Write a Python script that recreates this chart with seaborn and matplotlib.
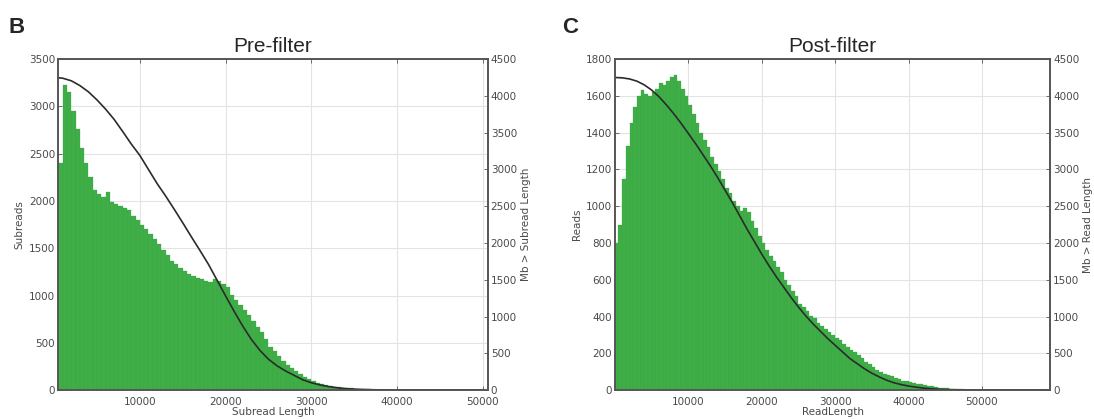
import numpy as np
import pandas as pd
import matplotlib
matplotlib.use("Agg")
import matplotlib.pyplot as plt
import seaborn as sns

# Histogram bin width (bp) and bar heights
bin_width = 500

# Pre-filter subreads, bins starting at 500 bp
pre_start = 500
pre_counts = [
    2400, 3230, 3150, 2950, 2760, 2560, 2400, 2250, 2120, 2070,
    2040, 2090, 1990, 1970, 1950, 1930, 1900, 1840, 1800, 1750,
    1700, 1650, 1600, 1540, 1480, 1430, 1370, 1330, 1290, 1260,
    1230, 1210, 1190, 1170, 1150, 1140, 1170, 1150, 1120, 1090,
    1010, 950, 900, 850, 790, 730, 670, 610, 540, 460,
    410, 360, 310, 270, 230, 200, 170, 140, 115, 95,
    80, 66, 55, 45, 37, 31, 25, 21, 17, 14,
    11, 9, 7, 6, 5, 4, 3, 3, 2, 2,
    2, 2, 1, 1, 1, 1, 1, 1, 1, 1,
    0, 0, 0, 0, 0, 0, 0, 0, 0, 0,
]
pre_curve_x = [500, 1000, 2000, 3000, 4000, 5000, 6000, 7000, 8000, 9000,
               10000, 11000, 12000, 13000, 14000, 15000, 16000, 17000, 18000, 19000,
               20000, 21000, 22000, 23000, 24000, 25000, 26000, 27000, 28000, 29000,
               30000, 31000, 32000, 33000, 34000, 35000, 36000, 37000, 38000, 40000,
               45000, 50000]
pre_curve_mb = [4245, 4240, 4205, 4140, 4055, 3945, 3820, 3680, 3515, 3345,
                3190, 3000, 2810, 2640, 2460, 2275, 2085, 1900, 1710, 1495,
                1280, 1070, 870, 690, 540, 420, 330, 260, 200, 140,
                100, 70, 48, 32, 20, 13, 8, 5, 3, 1,
                0, 0]

# Post-filter reads, bins starting at 0 bp
post_start = 0
post_counts = [
    800, 900, 1150, 1330, 1450, 1540, 1600, 1630, 1610, 1600,
    1620, 1640, 1670, 1660, 1680, 1700, 1715, 1680, 1640, 1600,
    1550, 1500, 1450, 1400, 1360, 1320, 1270, 1230, 1190, 1150,
    1100, 1070, 1030, 1000, 975, 990, 970, 920, 880, 840,
    800, 760, 730, 700, 670, 640, 600, 570, 540, 510,
    470, 450, 430, 405, 390, 365, 350, 330, 315, 300,
    285, 270, 250, 235, 220, 205, 190, 175, 155, 140,
    125, 110, 100, 90, 82, 74, 65, 58, 52, 47,
    43, 38, 35, 31, 27, 24, 20, 17, 14, 12,
    10, 8, 7, 5, 4, 3, 3, 2, 2, 1,
    1, 1, 1, 1, 0, 0, 0, 0, 0, 0,
    0, 0, 0, 0, 0, 0, 0, 0,
]
post_curve_x = [0, 1000, 2000, 3000, 4000, 5000, 6000, 7000, 8000, 9000,
                10000, 11000, 12000, 13000, 14000, 15000, 16000, 17000, 18000, 19000,
                20000, 21000, 22000, 23000, 24000, 25000, 26000, 27000, 28000, 29000,
                30000, 31000, 32000, 33000, 34000, 35000, 36000, 37000, 38000, 39000,
                40000, 41000, 42000, 43000, 44000, 46000, 48000, 50000, 59000]
post_curve_mb = [4250, 4245, 4230, 4200, 4150, 4080, 3990, 3880, 3760, 3630,
                 3490, 3350, 3200, 3050, 2890, 2720, 2550, 2370, 2190, 2020,
                 1850, 1690, 1540, 1400, 1260, 1130, 1010, 900, 800, 700,
                 610, 520, 430, 360, 290, 230, 180, 135, 100, 75,
                 55, 40, 28, 19, 12, 5, 2, 0, 0]

x_ticks = [10000, 20000, 30000, 40000, 50000]

green = "#3fae47"
grey_txt = "#4a4a4a"
spine_col = "#555555"

sns.set_theme(style="white")
plt.rcParams['font.family'] = ['DejaVu Sans']


def draw_panel(rect, start, counts, cx, cmb, xlim, ymax, yticks, title,
               xlabel, ylabel, rlabel, letter, letter_x):
    edges = [start + bin_width * i for i in range(len(counts) + 1)]
    df = pd.DataFrame({"x": [e + bin_width / 2 for e in edges[:-1]], "n": counts})
    ax = fig.add_axes(rect)
    ax.set_axisbelow(True)
    ax.grid(True, color="#e3e3e3", linewidth=0.8)
    sns.histplot(data=df, x="x", weights="n", bins=edges, ax=ax,
                 color=green, alpha=1, linewidth=0.2, edgecolor="#39a541")
    ax.set_xlim(*xlim)
    ax.set_ylim(0, ymax)
    ax.set_xticks(x_ticks)
    ax.set_yticks(list(yticks))
    ax.set_xlabel(xlabel, fontsize=7.5, color=grey_txt, labelpad=0)
    ax.set_ylabel(ylabel, fontsize=7.5, color=grey_txt, labelpad=3)
    ax.set_title(title, fontsize=15, family="Liberation Sans", pad=5)

    ax2 = ax.twinx()
    cdf = pd.DataFrame({"x": cx, "mb": cmb})
    sns.lineplot(data=cdf, x="x", y="mb", ax=ax2, color="#2b2b2b", linewidth=1.2)
    ax2.set_ylim(0, 4500)
    ax2.set_yticks(list(range(0, 4501, 500)))
    ax2.set_xlim(*xlim)
    ax2.set_ylabel(rlabel, fontsize=7.5, color=grey_txt, labelpad=3)
    ax2.set_xlabel("")

    for a in (ax, ax2):
        a.tick_params(direction="in", length=3, width=0.6, colors=spine_col,
                      labelsize=7.5, labelcolor=grey_txt, top=True, pad=2)
        for s in a.spines.values():
            s.set_color(spine_col)
            s.set_linewidth(1.2)
    ax.tick_params(axis="y", left=True, right=False)
    ax2.tick_params(axis="y", right=True, left=False)
    ax.tick_params(axis="x", bottom=True, top=True, pad=5)

    fig.text(letter_x, 0.935, letter, fontsize=16, fontweight="bold",
             family="Liberation Sans", ha="left", va="center")


fig = plt.figure(figsize=(10.94, 4.19), dpi=100)

draw_panel([0.053, 0.069, 0.393, 0.79], pre_start, pre_counts,
           pre_curve_x, pre_curve_mb, (450, 50600), 3500,
           range(0, 3501, 500), "Pre-filter", "Subread Length", "Subreads",
           "Mb > Subread Length", "B", 0.008)

draw_panel([0.562, 0.069, 0.398, 0.79], post_start, post_counts,
           post_curve_x, post_curve_mb, (0, 59300), 1800,
           range(0, 1801, 200), "Post-filter", "ReadLength", "Reads",
           "Mb > Read Length", "C", 0.514)

fig.savefig("out.png", dpi=100)
